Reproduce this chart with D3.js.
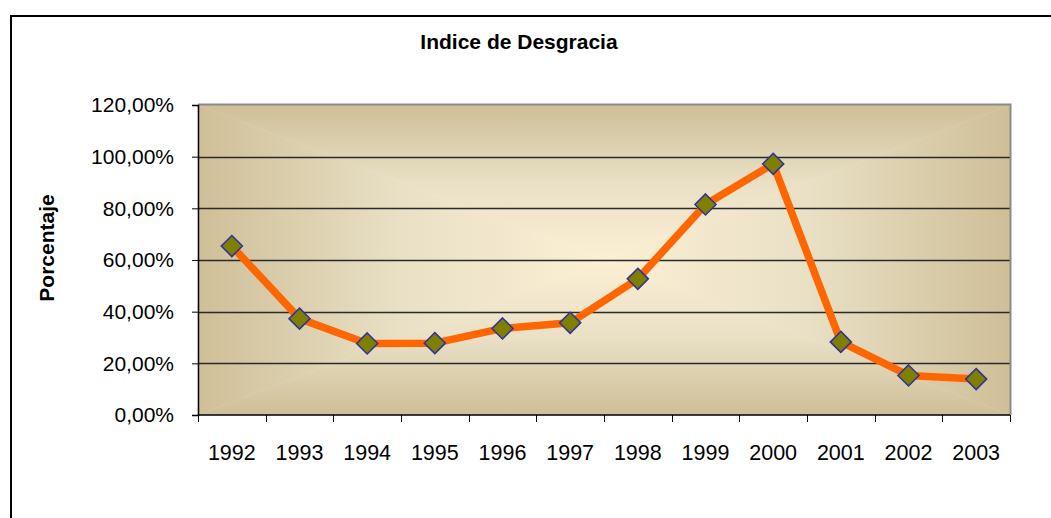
<!DOCTYPE html>
<html>
<head>
<meta charset="utf-8">
<script src="https://cdn.jsdelivr.net/npm/d3@7"></script>
<style>
  body { margin: 0; background: #fff; }
  text { font-family: "Liberation Sans", Arial, sans-serif; }
</style>
</head>
<body>
<div class="container"></div>
<script>
// data
var years = ['1992','1993','1994','1995','1996','1997','1998','1999','2000','2001','2002','2003']
var values = [0.654, 0.373, 0.277, 0.278, 0.335, 0.357, 0.527, 0.815, 0.972, 0.283, 0.153, 0.139]
var yTicks = [0, 0.2, 0.4, 0.6, 0.8, 1.0, 1.2]

var W = 1051, H = 518
var pl = 198, pt = 105, pw = 812, ph = 310   // plot area

var svg = d3.select('.container')
    .append('svg')
    .attr('width', W)
    .attr('height', H)
    .style('display', 'block')

// outer chart frame (runs off the right and bottom)
svg.append('rect')
    .attr('x', 11).attr('y', 16)
    .attr('width', W + 20).attr('height', H + 20)
    .style('fill', 'white')
    .style('stroke', 'black')
    .style('stroke-width', 2)

var x = d3.scaleBand().domain(years).range([pl, pl + pw])
var y = d3.scaleLinear().domain([0, 1.2]).range([pt + ph, pt])

var es = d3.formatLocale({ decimal: ',', thousands: '.', grouping: [3], currency: ['', ' €'] })
var pct = es.format('.2%')

// plot background: rectangular gradient from centre out to the edges
var edge = '#cfbf98', mid = '#e9e0c5', centre = '#fcefd4'
var cx = pl + pw / 2, cy = pt + ph / 2
var defs = svg.append('defs')
var sides = [
    { id: 'gt', x1: 0, y1: pt, x2: 0, y2: cy, pts: [[pl, pt], [pl + pw, pt], [cx, cy]] },
    { id: 'gb', x1: 0, y1: pt + ph, x2: 0, y2: cy, pts: [[pl, pt + ph], [pl + pw, pt + ph], [cx, cy]] },
    { id: 'gl', x1: pl, y1: 0, x2: cx, y2: 0, pts: [[pl, pt], [pl, pt + ph], [cx, cy]] },
    { id: 'gr', x1: pl + pw, y1: 0, x2: cx, y2: 0, pts: [[pl + pw, pt], [pl + pw, pt + ph], [cx, cy]] }
]
sides.forEach(s => {
    var g = defs.append('linearGradient')
        .attr('id', s.id)
        .attr('gradientUnits', 'userSpaceOnUse')
        .attr('x1', s.x1).attr('y1', s.y1).attr('x2', s.x2).attr('y2', s.y2)
    g.append('stop').attr('offset', 0).attr('stop-color', edge)
    g.append('stop').attr('offset', 0.5).attr('stop-color', mid)
    g.append('stop').attr('offset', 1).attr('stop-color', centre)
})
svg.append('g').selectAll('polygon')
    .data(sides)
    .enter()
    .append('polygon')
    .attr('points', d => d.pts.map(p => p.join(',')).join(' '))
    .style('fill', d => 'url(#' + d.id + ')')
    .style('stroke', d => 'url(#' + d.id + ')')
    .style('stroke-width', 0.5)

// gridlines
svg.append('g').selectAll('line')
    .data(yTicks.slice(1, -1))
    .enter()
    .append('line')
    .attr('x1', pl).attr('x2', pl + pw)
    .attr('y1', d => Math.round(y(d)) + 0.5).attr('y2', d => Math.round(y(d)) + 0.5)
    .style('stroke', '#2a2a2a')
    .style('stroke-width', 1.4)

// grey border top and right
svg.append('path')
    .attr('d', 'M' + pl + ',' + (pt - 0.5) + 'H' + (pl + pw + 0.5) + 'V' + (pt + ph))
    .style('fill', 'none')
    .style('stroke', '#8a8a8a')
    .style('stroke-width', 2)

// axes
var yAxis = svg.append('g')
    .attr('transform', 'translate(' + pl + ',0)')
    .call(d3.axisLeft(y).tickValues(yTicks).tickFormat(pct).tickSize(6).tickPadding(18))
var xAxis = svg.append('g')
    .attr('transform', 'translate(0,' + (pt + ph) + ')')
    .call(d3.axisBottom(x).tickSize(0).tickPadding(33))

;[yAxis, xAxis].forEach(a => {
    a.select('.domain').style('stroke', 'black').style('stroke-width', 1.5)
    a.selectAll('line').style('stroke', 'black')
    a.selectAll('text').style('font-size', '21px').style('fill', 'black')
        .style('font-family', '"Liberation Sans", Arial, sans-serif')
})
xAxis.select('.domain').attr('d', 'M' + pl + ',0H' + (pl + pw))
xAxis.selectAll('text').style('font-size', '21.5px').attr('dy', '0.55em')

// category boundary ticks
svg.append('g').selectAll('line')
    .data(years.concat(['end']))
    .enter()
    .append('line')
    .attr('x1', (d, i) => i < years.length ? Math.round(x(d)) + 0.5 : pl + pw + 0.5)
    .attr('x2', (d, i) => i < years.length ? Math.round(x(d)) + 0.5 : pl + pw + 0.5)
    .attr('y1', pt + ph).attr('y2', pt + ph + 7)
    .style('stroke', 'black')

// line
var line = d3.line()
    .x((d, i) => x(years[i]) + x.bandwidth() / 2)
    .y(d => y(d))

svg.append('path')
    .datum(values)
    .attr('d', line)
    .style('fill', 'none')
    .style('stroke', '#ff6600')
    .style('stroke-width', 7.5)
    .style('stroke-linejoin', 'round')

// diamond markers
svg.append('g').selectAll('path')
    .data(values)
    .enter()
    .append('path')
    .attr('transform', (d, i) => 'translate(' + (x(years[i]) + x.bandwidth() / 2) + ',' + y(d) + ')')
    .attr('d', 'M0,-10.5L10.5,0L0,10.5L-10.5,0Z')
    .style('fill', '#808000')
    .style('stroke', '#333399')
    .style('stroke-width', 1.6)

// titles
svg.append('text')
    .attr('x', 519).attr('y', 49)
    .attr('text-anchor', 'middle')
    .style('font-size', '21px')
    .style('font-weight', 'bold')
    .text('Indice de Desgracia')

svg.append('text')
    .attr('transform', 'translate(54,248) rotate(-90)')
    .attr('text-anchor', 'middle')
    .style('font-size', '21px')
    .style('font-weight', 'bold')
    .text('Porcentaje')
</script>
</body>
</html>
